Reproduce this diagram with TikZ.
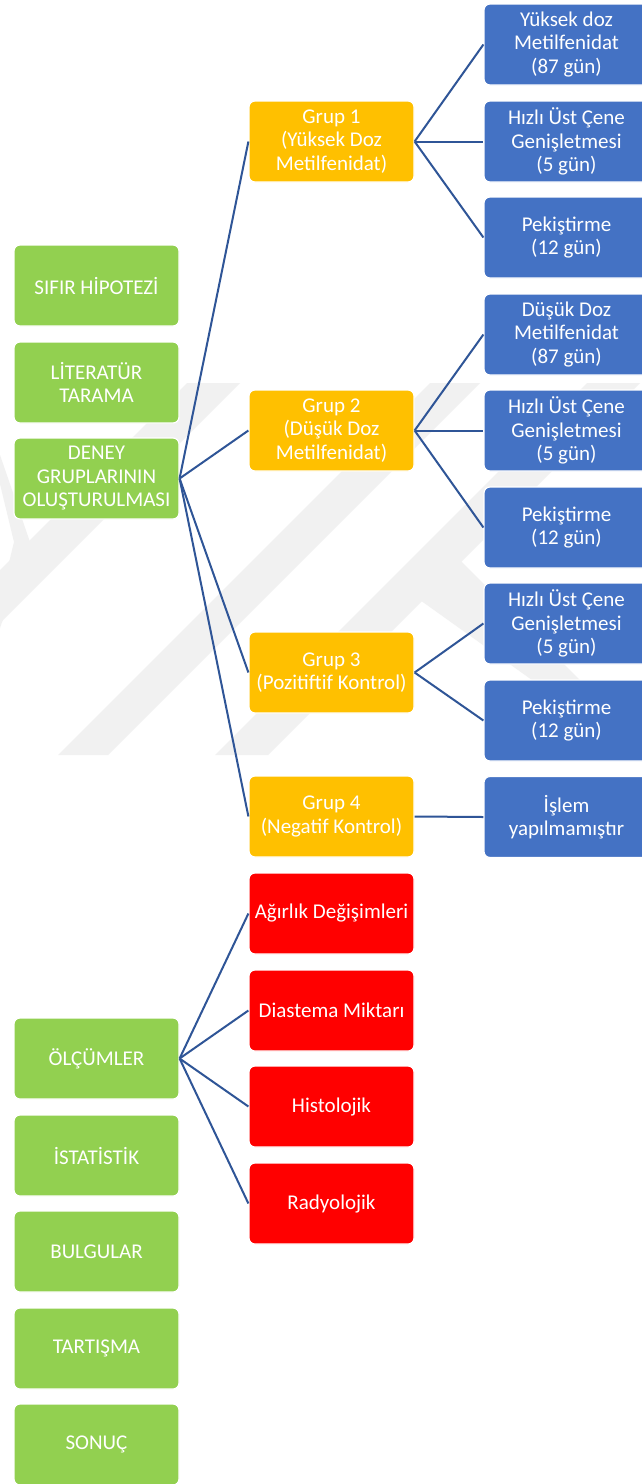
\documentclass[tikz,border=0pt]{standalone}
\usepackage{fontspec}
\setmainfont{Carlito}
\definecolor{cgreen}{HTML}{92D050}
\definecolor{cyellow}{HTML}{FFC000}
\definecolor{cblue}{HTML}{4472C4}
\definecolor{cred}{HTML}{FF0000}
\definecolor{cline}{HTML}{2F5597}
\definecolor{wm}{HTML}{F1F1F1}
\begin{document}
\begin{tikzpicture}[x=1pt,y=-1pt,
  box/.style={draw=white,line width=1.2pt,rounded corners=6pt,minimum width=165pt,minimum height=81pt,
    inner sep=1pt,align=center,text=white,font=\fontsize{21}{23.5}\selectfont},
  gbox/.style={box,fill=cgreen},
  ybox/.style={box,fill=cyellow},
  bbox/.style={box,fill=cblue},
  rbox/.style={box,fill=cred},
  link/.style={draw=cline,line width=2pt}]
\useasboundingbox (0,0) rectangle (642,1484);
\fill[white] (0,0) rectangle (642,1484);
% faint watermark
\begin{scope}[wm]
\fill (0,455) -- (30,542) -- (0,628) -- (0,600) -- (14,542) -- (0,484) -- cycle;
\fill (187,383) -- (240,383) -- (-132,755) -- (-185,755) -- cycle;
\fill (430,383) -- (480,383) -- (108,755) -- (58,755) -- cycle;
\fill (587,383) -- (640,383) -- (268,755) -- (215,755) -- cycle;
\fill (420,600) -- (460,560) -- (600,700) -- (560,700) -- cycle;
\end{scope}
% left column
\node[gbox] (h0) at (96.5,285.5) {SIFIR HİPOTEZİ};
\node[gbox] (lit) at (96.5,382.5) {LİTERATÜR\\TARAMA};
\node[gbox] (dg) at (96.5,478.5) {DENEY\\GRUPLARININ\\OLUŞTURULMASI};
\node[gbox] (olc) at (96.5,1058.5) {ÖLÇÜMLER};
\node[gbox] (ist) at (96.5,1155.5) {İSTATİSTİK};
\node[gbox] (bul) at (96.5,1251.5) {BULGULAR};
\node[gbox] (tar) at (96.5,1348.5) {TARTIŞMA};
\node[gbox] (son) at (96.5,1444.5) {SONUÇ};
% groups
\node[ybox] (g1) at (331.5,141.5) {Grup 1\\(Yüksek Doz\\Metilfenidat)};
\node[ybox] (g2) at (331.5,430.5) {Grup 2\\(Düşük Doz\\Metilfenidat)};
\node[ybox] (g3) at (331.5,672.5) {Grup 3\\(Pozitiftif Kontrol)};
\node[ybox] (g4) at (331.5,816.5) {Grup 4\\(Negatif Kontrol)};
% treatments
\node[bbox] (b1) at (566.5,44.5) {Yüksek doz\\Metilfenidat\\(87 gün)};
\node[bbox] (b2) at (566.5,141.5) {Hızlı Üst Çene\\Genişletmesi\\(5 gün)};
\node[bbox] (b3) at (566.5,237.5) {Pekiştirme\\(12 gün)};
\node[bbox] (b4) at (566.5,334.5) {Düşük Doz\\Metilfenidat\\(87 gün)};
\node[bbox] (b5) at (566.5,430.5) {Hızlı Üst Çene\\Genişletmesi\\(5 gün)};
\node[bbox] (b6) at (566.5,527.5) {Pekiştirme\\(12 gün)};
\node[bbox] (b7) at (566.5,623.5) {Hızlı Üst Çene\\Genişletmesi\\(5 gün)};
\node[bbox] (b8) at (566.5,720.5) {Pekiştirme\\(12 gün)};
\node[bbox] (b9) at (566.5,817) {İşlem\\yapılmamıştır};
% measurements
\node[rbox] (r1) at (331.5,913.5) {Ağırlık Değişimleri};
\node[rbox] (r2) at (331.5,1010.5) {Diastema Miktarı};
\node[rbox] (r3) at (331.5,1106.5) {Histolojik};
\node[rbox] (r4) at (331.5,1203.5) {Radyolojik};
% connectors
\foreach \g in {g1,g2,g3,g4} \draw[link] (dg.east) -- (\g.west);
\foreach \b in {b1,b2,b3} \draw[link] (g1.east) -- (\b.west);
\foreach \b in {b4,b5,b6} \draw[link] (g2.east) -- (\b.west);
\foreach \b in {b7,b8} \draw[link] (g3.east) -- (\b.west);
\draw[link] (g4.east) -- (b9.west);
\foreach \r in {r1,r2,r3,r4} \draw[link] (olc.east) -- (\r.west);
\end{tikzpicture}
\end{document}
